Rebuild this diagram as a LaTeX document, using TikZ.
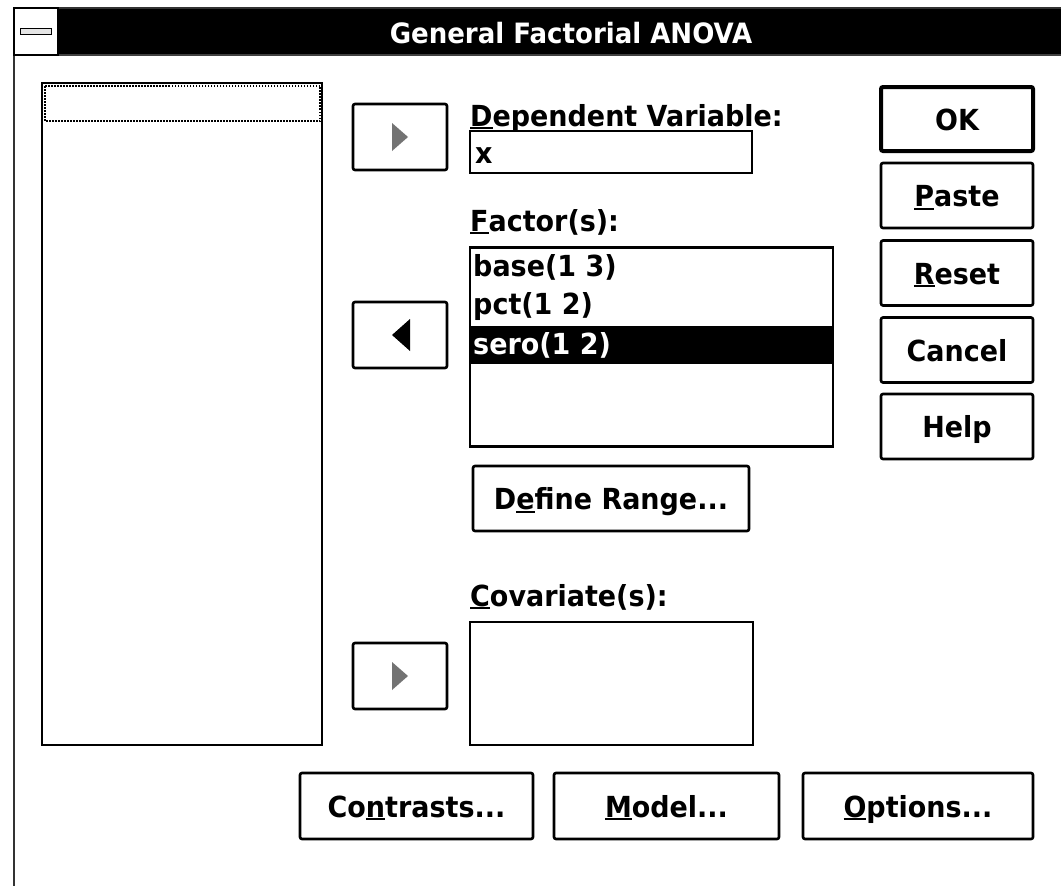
\documentclass[tikz,border=0pt]{standalone}
\usepackage{fontspec}
\setmainfont{DejaVu Sans}[FakeStretch=0.93]
% underlined access key
\newcommand\acc[1]{\setbox0\hbox{#1}\rlap{\rule[-3pt]{\wd0}{2pt}}\box0}
\begin{document}
\begin{tikzpicture}[x=1pt,y=-1pt,
  every node/.style={font=\fontsize{29}{34}\selectfont\bfseries, inner sep=0pt},
  btn/.style={draw, line width=2.6pt, rounded corners=2pt, fill=white,
    text height=22pt, text depth=0pt, minimum height=65pt},
  boxfield/.style={draw, line width=2.6pt, fill=white},
  lbl/.style={anchor=base west},
  item/.style={anchor=base west}]
\useasboundingbox[fill=white] (0,0) rectangle (1061,886);

% window frame and caption bar
\fill[black] (14,8) rectangle (1061,55);
\draw[line width=1.8pt, black!80] (14,886) -- (14,8) -- (1061,8);
\draw[line width=1.5pt, black!75] (14,55) -- (1061,55);
\node[draw, line width=1.5pt, fill=white, minimum width=44pt, minimum height=47pt] (sysmenu) at (36,31.5) {};
\node[draw, line width=1.8pt, fill=black!10, minimum width=31pt, minimum height=6pt] (sysbar) at (sysmenu.center) {};
\node[anchor=base, text=white, font=\fontsize{28}{32}\selectfont\bfseries] (title) at (571,43) {General Factorial ANOVA};

% source variable list
\node[boxfield, minimum width=280pt, minimum height=662pt] (srclist) at (182,414) {};
\draw[line width=1.5pt, dash pattern=on 1.5pt off 1.5pt] (45,86) rectangle (320,121);

% transfer buttons
\node[btn, minimum width=94pt, minimum height=66pt] (tdep) at (400,137) {};
\node[btn, minimum width=94pt, minimum height=66pt] (tfac) at (400,335) {};
\node[btn, minimum width=94pt, minimum height=66pt] (tcov) at (400,676) {};
\fill[black!55] ([xshift=-8pt,yshift=14pt]tdep.center) -- ([xshift=8pt]tdep.center) -- ([xshift=-8pt,yshift=-14pt]tdep.center) -- cycle;
\fill[black] ([xshift=10pt,yshift=16pt]tfac.center) -- ([xshift=-8pt]tfac.center) -- ([xshift=10pt,yshift=-16pt]tfac.center) -- cycle;
\fill[black!55] ([xshift=-8pt,yshift=14pt]tcov.center) -- ([xshift=8pt]tcov.center) -- ([xshift=-8pt,yshift=-14pt]tcov.center) -- cycle;

% dependent variable
\node[lbl] (ldep) at (470,126) {\acc{D}ependent Variable:};
\node[boxfield, minimum width=282pt, minimum height=42pt] (depbox) at (611,152) {};
\node[item] (depx) at (475,163) {x};

% factors
\node[lbl] (lfac) at (470,231) {\acc{F}actor(s):};
\node[boxfield, minimum width=363pt, minimum height=199pt] (faclist) at (651.5,347) {};
\fill[black] (471,326) rectangle (832,364);
\node[item] (f1) at (473,276) {base(1 3)};
\node[item] (f2) at (473,314) {pct(1 2)};
\node[item, text=white] (f3) at (473,354) {sero(1 2)};
\node[btn, minimum width=276pt] (define) at (611,498.5) {D\acc{e}fine Range...};

% covariates
\node[lbl] (lcov) at (470,606) {\acc{C}ovariate(s):};
\node[boxfield, minimum width=283pt, minimum height=123pt] (covlist) at (611.5,683.5) {};

% command buttons
\node[btn, line width=4pt, minimum width=152pt, minimum height=64pt] (ok) at (957,119) {OK};
\node[btn, minimum width=152pt] (paste) at (957,195.5) {\acc{P}aste};
\node[btn, minimum width=152pt] (reset) at (957,273) {\acc{R}eset};
\node[btn, minimum width=152pt] (cancel) at (957,350) {Cancel};
\node[btn, minimum width=152pt] (help) at (957,426.5) {Help};

% bottom buttons
\node[btn, minimum width=233pt, minimum height=66pt] (contrasts) at (416.5,806) {Co\acc{n}trasts...};
\node[btn, minimum width=225pt, minimum height=66pt] (model) at (666.5,806) {\acc{M}odel...};
\node[btn, minimum width=230pt, minimum height=66pt] (options) at (918,806) {\acc{O}ptions...};
\end{tikzpicture}
\end{document}
